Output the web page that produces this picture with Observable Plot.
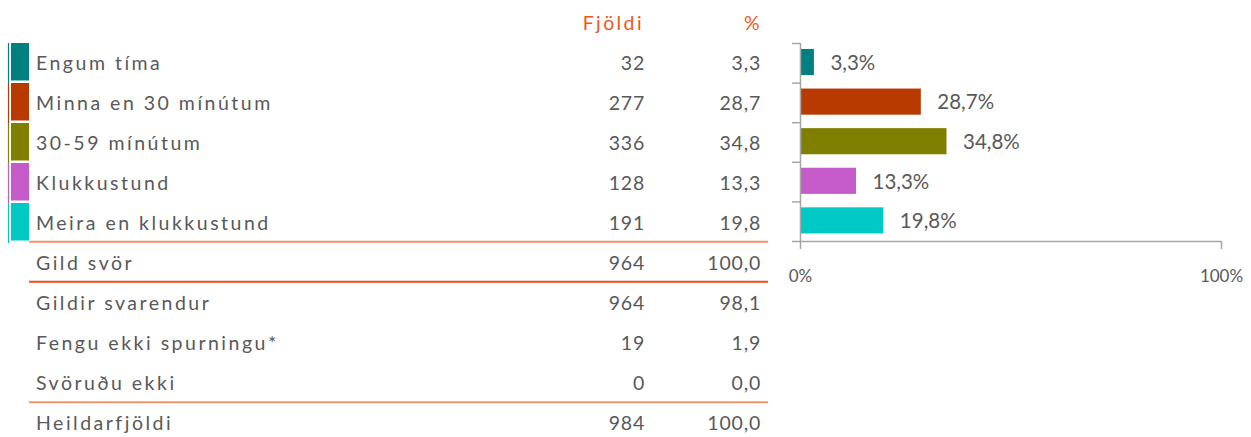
<!DOCTYPE html>
<html><head><meta charset="utf-8">
<script src="https://cdn.jsdelivr.net/npm/d3@7"></script>
<script src="https://cdn.jsdelivr.net/npm/@observablehq/plot@0.6"></script>
<style>
body{margin:0;background:#fff;}
#wrap{width:1251px;height:437px;}
</style></head><body><div id="wrap"></div>
<script>
const categories = ["Engum tíma","Minna en 30 mínútum","30-59 mínútum","Klukkustund","Meira en klukkustund"];
const counts = [32,277,336,128,191];
const percents = [3.3,28.7,34.8,13.3,19.8];
const colors = ["#008080","#b83a00","#808000","#c45bc8","#00c8c4"];
const summaryLabels = ["Gild svör","Gildir svarendur","Fengu ekki spurningu*","Svöruðu ekki","Heildarfjöldi"];
const summaryCounts = [964,964,19,0,984];
const summaryPercents = [100.0,98.1,1.9,0.0,100.0];
const headers = ["Fjöldi","%"];
const xTicks = [0,100];

const FONT = "Lato, 'Open Sans', sans-serif";
const TEXT = "#595959";
const AXIS = "#a6a6a6";
const fmt = v => d3.format(".1f")(v).replace(".", ",");

const bars = categories.map((c,i)=>({c, i, p: percents[i], color: colors[i]}));

const chart = Plot.plot({
  width: 1251, height: 437,
  marginLeft: 800, marginRight: 30, marginTop: 43, marginBottom: 196,
  x: {domain: [0, 100]},
  y: {domain: [0, 5], reverse: true},
  style: {fontFamily: FONT, background: "transparent", overflow: "visible"},
  marks: [
    Plot.rectX(bars, {x1: 0, x2: "p", y1: d => d.i + 0.15, y2: d => d.i + 0.81, fill: d => d.color}),
    Plot.text(bars, {x: "p", y: d => d.i + 0.5, text: d => fmt(d.p) + "%", dx: 16, textAnchor: "start", fontSize: 20.5, fill: TEXT}),
    Plot.axisY({ticks: d3.range(0, 6), tickSize: 8, tickFormat: () => "", label: null, stroke: AXIS, strokeWidth: 1.5}),
    Plot.ruleX([0], {stroke: AXIS, strokeWidth: 1.5}),
    Plot.ruleY([5], {stroke: AXIS, strokeWidth: 1.5}),
    Plot.axisX({ticks: xTicks, tickSize: 8, tickPadding: 20, tickFormat: d => d + "%", label: null, fontSize: 17, stroke: AXIS, strokeWidth: 1.5, fill: TEXT})
  ]
});

const svg = d3.select(chart);
const g = svg.append("g").attr("font-family", FONT).attr("font-size", 19.5).attr("text-anchor", "start");

// header
const headerX = [644, 762];
g.selectAll("text.h").data(headers).join("text")
  .attr("x", (d,i) => headerX[i]).attr("y", 30)
  .attr("text-anchor", "end").attr("fill", "#f0561c").attr("letter-spacing", "2.4px")
  .text(d => d);

// category rows
categories.forEach((c, i) => {
  const top = 43 + 40 * i;
  g.append("rect").attr("x", 11).attr("y", top).attr("width", 18).attr("height", 37.5).attr("fill", colors[i]);
  g.append("line").attr("x1", 8.5).attr("x2", 8.5).attr("y1", top).attr("y2", top + 40).attr("stroke", colors[i]).attr("stroke-width", 1.2);
  const base = 70 + 40 * i;
  g.append("text").attr("x", 36).attr("y", base).attr("fill", TEXT).attr("text-anchor", "start").attr("letter-spacing", "2.5px").text(c);
  g.append("text").attr("x", 645).attr("y", base).attr("fill", TEXT).attr("text-anchor", "end").attr("letter-spacing", "0.8px").text(counts[i]);
  g.append("text").attr("x", 761).attr("y", base).attr("fill", TEXT).attr("text-anchor", "end").attr("letter-spacing", "0.8px").text(fmt(percents[i]));
});

// summary rows
summaryLabels.forEach((c, j) => {
  const base = 270 + 40 * j;
  g.append("text").attr("x", 36).attr("y", base).attr("fill", TEXT).attr("text-anchor", "start").attr("letter-spacing", "2.5px").text(c);
  g.append("text").attr("x", 645).attr("y", base).attr("fill", TEXT).attr("text-anchor", "end").attr("letter-spacing", "0.8px").text(summaryCounts[j]);
  g.append("text").attr("x", 761).attr("y", base).attr("fill", TEXT).attr("text-anchor", "end").attr("letter-spacing", "0.8px").text(fmt(summaryPercents[j]));
});

// separator lines
[[241.7, "#f7956a"], [281.7, "#f04e12"], [402.3, "#f7956a"]].forEach(([y, col]) => {
  g.append("line").attr("x1", 29).attr("x2", 768).attr("y1", y).attr("y2", y).attr("stroke", col).attr("stroke-width", 2);
});

document.getElementById("wrap").appendChild(chart);
</script></body></html>
